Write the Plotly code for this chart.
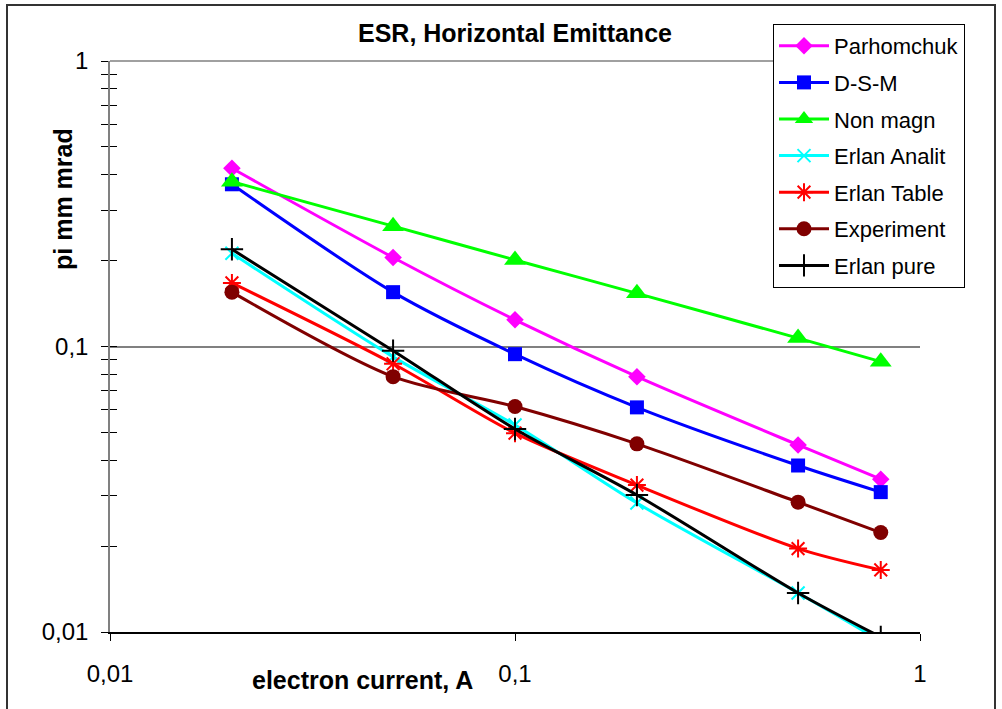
import plotly.graph_objects as go

# Electron current, A
current = [0.02, 0.05, 0.1, 0.2, 0.5, 0.8]

# Horizontal emittance, pi mm mrad
parhomchuk = [0.421, 0.205, 0.124, 0.0784, 0.0452, 0.0343]
dsm = [0.370, 0.155, 0.094, 0.0612, 0.0383, 0.0309]
non_magn = [0.378, 0.264, 0.201, 0.1535, 0.107, 0.0885]
erlan_analit = [0.212, 0.092, 0.0531, 0.0283, 0.0137, 0.0093]
erlan_table = [0.167, 0.087, 0.0497, 0.0327, 0.0196, 0.0165]
experiment = [0.155, 0.0784, 0.0616, 0.0456, 0.0285, 0.0223]
erlan_pure = [0.219, 0.0967, 0.0514, 0.0302, 0.0137, 0.0096]

x_ticks = [0.01, 0.1, 1]
x_tick_text = ["0,01", "0,1", "1"]
y_ticks = [0.01, 0.1, 1]
y_tick_text = ["0,01", "0,1", "1"]
y_minor = [m * d for d in (0.01, 0.1) for m in range(2, 10)]

FONT = "Arial, Liberation Sans, sans-serif"

series = [
    ("Parhomchuk", parhomchuk, "#FF00FF", "diamond", 13.5, 0),
    ("D-S-M", dsm, "#0000FF", "square", 14, 0),
    ("Non magn", non_magn, "#00FF00", "triangle-up", 19, 0),
    ("Erlan Analit", erlan_analit, "#00FFFF", "x-thin", 13, 2),
    ("Erlan Table", erlan_table, "#FF0000", "asterisk", 15, 2),
    ("Experiment", experiment, "#800000", "circle", 15, 0),
    ("Erlan pure", erlan_pure, "#000000", "cross-thin", 16, 2),
]

fig = go.Figure()
for name, vals, color, symbol, size, lw in series:
    marker = dict(symbol=symbol, size=size, color=color)
    if lw:
        marker["line"] = dict(color=color, width=lw)
    else:
        marker["line"] = dict(width=0)
    fig.add_trace(go.Scatter(
        x=current, y=vals, name=name, mode="lines+markers",
        line=dict(color=color, width=3, shape="spline", smoothing=0.8),
        marker=marker, legendgroup=name,
    ))

# second y axis only to draw the inner half of the crossing ticks
fig.add_trace(go.Scatter(x=[None], y=[None], yaxis="y2", showlegend=False,
                         hoverinfo="skip"))

tick_font = dict(family=FONT, size=24, color="#000000")
bold_font = dict(family=FONT, size=25, color="#000000")

fig.update_layout(
    width=1002, height=709,
    margin=dict(l=110, r=82, t=61, b=77),
    paper_bgcolor="#FFFFFF", plot_bgcolor="#FFFFFF",
    font=dict(family=FONT, color="#000000"),
    xaxis=dict(
        type="log", range=[-2, 0], tickvals=x_ticks, ticktext=x_tick_text,
        ticks="outside", ticklen=7, tickcolor="#000000", tickwidth=1,
        showline=True, linecolor="#000000", linewidth=1.5,
        showgrid=False, zeroline=False, tickfont=tick_font,
        ticklabelstandoff=12,
    ),
    yaxis=dict(
        type="log", range=[-2, 0], tickvals=y_ticks, ticktext=y_tick_text,
        ticks="outside", ticklen=7, tickcolor="#000000", tickwidth=1,
        minor=dict(tickvals=y_minor, ticks="outside", ticklen=7,
                   tickcolor="#000000", tickwidth=1, showgrid=False),
        showline=True, linecolor="#808080", linewidth=1.5,
        showgrid=True, gridcolor="#808080", gridwidth=1.5,
        zeroline=False, tickfont=tick_font, ticklabelstandoff=8,
    ),
    yaxis2=dict(
        type="log", range=[-2, 0], overlaying="y", side="left",
        tickvals=y_ticks, ticktext=["", "", ""],
        ticks="inside", ticklen=7, tickcolor="#000000", tickwidth=1,
        minor=dict(tickvals=y_minor, ticks="inside", ticklen=7,
                   tickcolor="#000000", tickwidth=1, showgrid=False),
        showline=False, showgrid=False, zeroline=False,
    ),
    legend=dict(
        x=(773 - 110) / 810, y=(632 - 24) / 571,
        xanchor="left", yanchor="top",
        bgcolor="#FFFFFF", bordercolor="#000000", borderwidth=1,
        font=dict(family=FONT, size=22, color="#000000"),
        tracegroupgap=5, itemwidth=50,
    ),
    showlegend=True,
    annotations=[
        dict(text="<b>ESR, Horizontal Emittance</b>", xref="paper", yref="paper",
             x=0.5, y=(632 - 33) / 571, xanchor="center", yanchor="middle",
             showarrow=False, font=bold_font),
        dict(text="<b>electron current, A</b>", xref="paper", yref="paper",
             x=(362 - 110) / 810, y=(632 - 680) / 571, xanchor="center",
             yanchor="middle", showarrow=False, font=bold_font),
        dict(text="<b>pi mm mrad</b>", xref="paper", yref="paper",
             x=(63 - 110) / 810, y=(632 - 199) / 571, xanchor="center",
             yanchor="middle", textangle=-90, showarrow=False, font=bold_font),
    ],
    shapes=[
        # top gridline at 1 (plotly drops grid lines on the plot edge)
        dict(type="line", xref="x domain", yref="y domain",
             x0=0, x1=1, y0=1, y1=1,
             line=dict(color="#808080", width=1.5), layer="below"),
        dict(type="rect", xref="paper", yref="paper",
             x0=(7 - 110) / 810, x1=(995 - 110) / 810,
             y0=(632 - 715) / 571, y1=(632 - 5) / 571,
             line=dict(color="#333333", width=2), fillcolor="rgba(0,0,0,0)",
             layer="below"),
    ],
)

fig.write_html("out.html")
